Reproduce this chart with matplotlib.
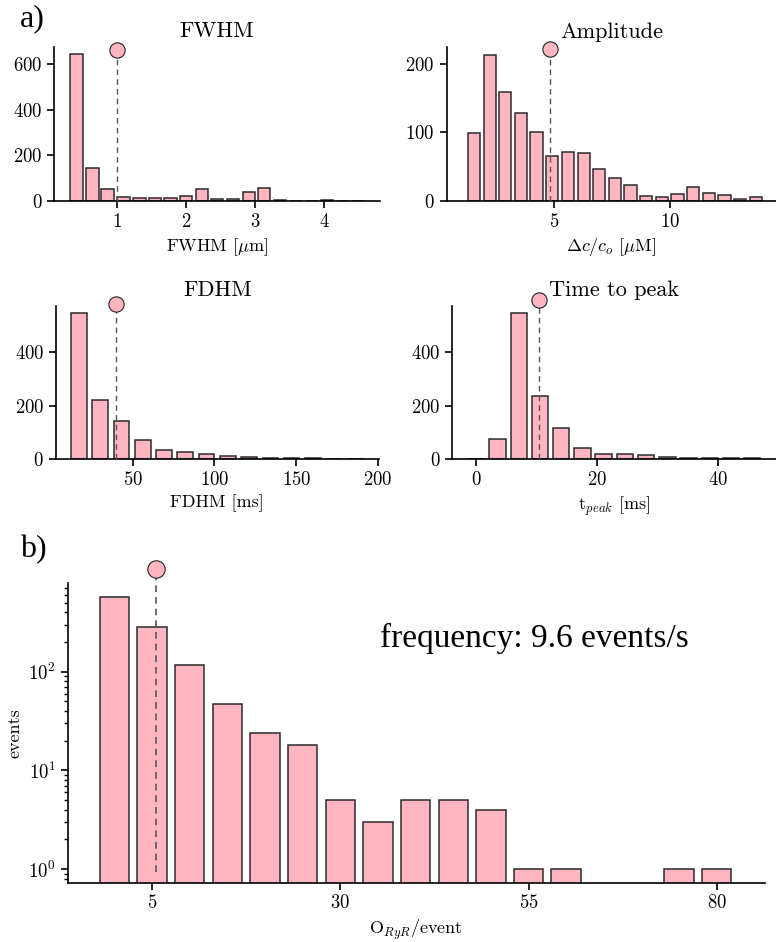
import matplotlib
matplotlib.use('Agg')
import matplotlib.pyplot as plt
import numpy as np

plt.rcParams['font.family'] = 'cmr10'
plt.rcParams['mathtext.fontset'] = 'cm'
plt.rcParams['axes.formatter.use_mathtext'] = True
plt.rcParams['axes.unicode_minus'] = False
plt.rcParams['axes.linewidth'] = 1.2
plt.rcParams['xtick.major.width'] = 1.2
plt.rcParams['ytick.major.width'] = 1.2
plt.rcParams['xtick.major.size'] = 5
plt.rcParams['ytick.major.size'] = 5

# histogram data
fwhm_x = [0.41, 0.64, 0.86, 1.09, 1.32, 1.55, 1.77, 2.00, 2.23, 2.45,
          2.68, 2.91, 3.13, 3.36, 3.59, 3.82, 4.04, 4.27, 4.50]
fwhm_n = [643, 144, 51, 17, 10, 13, 13, 19, 53, 9, 9, 38, 54, 4, 0, 0, 4, 1, 1]
fwhm_med = 1.0

amp_x = [1.55, 2.23, 2.90, 3.58, 4.25, 4.93, 5.60, 6.28, 6.95, 7.63,
         8.30, 8.98, 9.65, 10.33, 11.00, 11.68, 12.35, 13.03, 13.70]
amp_n = [99, 214, 160, 128, 100, 66, 72, 70, 46, 33, 23, 7, 6, 10, 20, 12, 9, 2, 5]
amp_med = 4.84

fdhm_x = [17.2, 30.2, 43.2, 56.2, 69.2, 82.2, 95.2, 108.2, 121.2, 134.2,
          147.2, 160.2, 173.2, 186.2]
fdhm_n = [546, 219, 142, 70, 34, 25, 17, 10, 9, 3, 5, 4, 1, 2]
fdhm_med = 39.8

ttp_x = [0.05, 3.56, 7.07, 10.58, 14.09, 17.60, 21.11, 24.62, 28.13, 31.64,
         35.15, 38.66, 42.17, 45.68]
ttp_n = [2, 74, 546, 234, 115, 40, 17, 19, 15, 8, 5, 5, 4, 3]
ttp_med = 10.4

ryr_x = [0, 5, 10, 15, 20, 25, 30, 35, 40, 45, 50, 55, 60, 75, 80]
ryr_n = [570, 281, 117, 47, 24, 18, 5, 3, 5, 5, 4, 1, 1, 1, 1]
ryr_med = 5.5

pink = '#FFB6C1'
edge = '#2b2b2b'

fig = plt.figure(figsize=(7.76, 9.42), dpi=100)

panels = [
    # rect, x, n, median, width, xlim, marker y, title, xlabel, xticks, yticks
    ([0.0696, 0.7869, 0.4201, 0.1632], fwhm_x, fwhm_n, fwhm_med, 0.18, (0.083, 4.81), 663,
     'FWHM', r'FWHM [$\mu$m]', [1, 2, 3, 4], [0, 200, 400, 600]),
    ([0.5756, 0.7869, 0.4244, 0.1628], amp_x, amp_n, amp_med, 0.53, (0.375, 14.57), 222,
     'Amplitude', r'$\Delta c/c_o$ [$\mu$M]', [5, 10], [0, 100, 200]),
    ([0.0718, 0.5127, 0.4166, 0.1627], fdhm_x, fdhm_n, fdhm_med, 9.6, (3.0, 200.6), 580,
     'FDHM', 'FDHM [ms]', [50, 100, 150, 200], [0, 200, 400]),
    ([0.5829, 0.5127, 0.4171, 0.1627], ttp_x, ttp_n, ttp_med, 2.7, (-3.9, 49.6), 596,
     'Time to peak', r't$_{peak}$ [ms]', [0, 20, 40], [0, 200, 400]),
]

for rect, x, n, med, w, xl, my, title, xlab, xt, yt in panels:
    ax = fig.add_axes(rect)
    ax.bar(x, n, width=w, color=pink, edgecolor=edge, linewidth=1.1)
    ax.set_xlim(*xl)
    ax.set_ylim(0, 1.05 * max(n))
    ax.plot([med, med], [0, my], color='#555555', lw=1.0, dashes=(4, 3),
            clip_on=False, zorder=3)
    ax.plot(med, my, 'o', ms=11, mfc=pink, mec='#222222', mew=0.8,
            clip_on=False, zorder=4)
    ax.set_xticks(xt)
    ax.set_yticks(yt)
    ax.tick_params(labelsize=13.5)
    ax.set_title(title, fontsize=16, pad=7)
    ax.set_xlabel(xlab, fontsize=13)
    ax.spines['top'].set_visible(False)
    ax.spines['right'].set_visible(False)

# bottom panel, log scale
ax = fig.add_axes([0.0872, 0.0630, 0.8986, 0.3178])
ax.bar(ryr_x, ryr_n, width=3.9, color=pink, edgecolor=edge, linewidth=1.1)
ax.set_yscale('log')
ax.set_xlim(-6.2, 86.4)
ax.set_ylim(0.73, 785)
ax.plot([ryr_med, ryr_med], [0.94, 1096], color='#555555', lw=1.2, dashes=(4, 3),
        clip_on=False, zorder=3)
ax.plot(ryr_med, 1096, 'o', ms=12.5, mfc=pink, mec='#222222', mew=0.8,
        clip_on=False, zorder=4)
ax.set_xticks([5, 30, 55, 80])
ax.tick_params(labelsize=13.5)
ax.tick_params(axis='y', which='minor', width=1.0, length=3)
ax.set_xlabel(r'O$_{RyR}$/event', fontsize=13)
ax.set_ylabel('events', fontsize=13)
ax.spines['top'].set_visible(False)
ax.spines['right'].set_visible(False)
ax.text(0.448, 0.788, 'frequency: 9.6 events/s', transform=ax.transAxes,
        fontsize=24, family='Liberation Serif', va='baseline')

fig.text(0.0258, 0.9717, 'a)', fontsize=23, family='Liberation Serif', va='baseline')
fig.text(0.0258, 0.409, 'b)', fontsize=23, family='Liberation Serif', va='baseline')

fig.savefig('out.png', dpi=100)
